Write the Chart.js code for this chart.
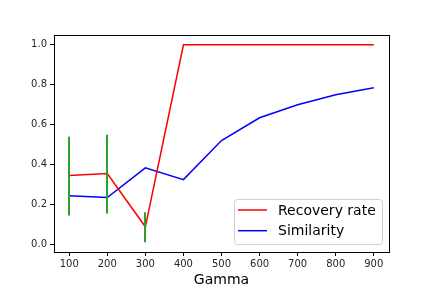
<!DOCTYPE html>
<html>
<head>
<meta charset="utf-8">
<script src="https://cdn.jsdelivr.net/npm/chart.js@4"></script>
<style>
  html, body { margin: 0; padding: 0; background: #fff; }
  #wrap { width: 432px; height: 288px; }
</style>
</head>
<body>
<div id="wrap"><canvas id="chart" width="432" height="288"></canvas></div>
<script>
const gammas = [100, 200, 300, 400, 500, 600, 700, 800, 900];
const recoveryRate = [0.346, 0.356, 0.09, 1.0, 1.0, 1.0, 1.0, 1.0, 1.0];
const similarity = [0.245, 0.236, 0.385, 0.326, 0.521, 0.635, 0.70, 0.75, 0.785];
// error bars only on the first three gammas
const errGammas = [100, 200, 300];
const errLow = [0.146, 0.156, 0.013];
const errHigh = [0.54, 0.55, 0.163];
const xTicks = [100, 200, 300, 400, 500, 600, 700, 800, 900];
const yTicks = [0.0, 0.2, 0.4, 0.6, 0.8, 1.0];
const legendLabels = ['Recovery rate', 'Similarity'];

const FONT = 'DejaVu Sans';
const TXT = '#262626';

function pts(xs, ys) {
  return xs.map((x, i) => ({ x: x, y: ys[i] }));
}

// error bars, axes frame and legend box like matplotlib
const extras = {
  id: 'extras',
  afterDatasetsDraw(chart) {
    const ctx = chart.ctx;
    const x = chart.scales.x, y = chart.scales.y;
    ctx.save();
    ctx.strokeStyle = '#2ca02c';
    ctx.lineWidth = 2;
    errGammas.forEach((g, i) => {
      const px = Math.round(x.getPixelForValue(g));
      ctx.beginPath();
      ctx.moveTo(px, y.getPixelForValue(errLow[i]));
      ctx.lineTo(px, y.getPixelForValue(errHigh[i]));
      ctx.stroke();
    });
    ctx.restore();
  },
  afterDraw(chart) {
    const ctx = chart.ctx;
    const a = chart.chartArea;
    ctx.save();
    ctx.strokeStyle = '#000';
    ctx.lineWidth = 1;
    ctx.strokeRect(a.left + 0.5, a.top + 0.5, a.right - a.left, a.bottom - a.top);

    // legend, lower right inside the axes
    const bx = 234.5, by = 199.5, bw = 148, bh = 45;
    ctx.fillStyle = 'rgba(255,255,255,0.8)';
    ctx.strokeStyle = '#d0d0d0';
    ctx.beginPath();
    ctx.roundRect(bx, by, bw, bh, 3);
    ctx.fill();
    ctx.stroke();
    const colors = ['#ff0000', '#0000ff'];
    ctx.font = '14px ' + FONT;
    ctx.textBaseline = 'middle';
    ctx.textAlign = 'left';
    legendLabels.forEach((lab, i) => {
      const ly = 210 + i * 20.7;
      ctx.strokeStyle = colors[i];
      ctx.lineWidth = 1.5;
      ctx.beginPath();
      ctx.moveTo(238, ly);
      ctx.lineTo(267, ly);
      ctx.stroke();
      ctx.fillStyle = '#000';
      ctx.fillText(lab, 278, ly + 1);
    });
    ctx.restore();
  }
};

new Chart(document.getElementById('chart'), {
  type: 'line',
  data: {
    datasets: [
      {
        label: legendLabels[0],
        data: pts(gammas, recoveryRate),
        borderColor: '#ff0000',
        borderWidth: 1.5,
        pointRadius: 0,
        tension: 0
      },
      {
        label: legendLabels[1],
        data: pts(gammas, similarity),
        borderColor: '#0000ff',
        borderWidth: 1.5,
        pointRadius: 0,
        tension: 0
      }
    ]
  },
  options: {
    responsive: false,
    animation: false,
    devicePixelRatio: 1,
    layout: { padding: { left: 0, right: 43, top: 35, bottom: 0 } },
    plugins: {
      legend: { display: false },
      tooltip: { enabled: false }
    },
    scales: {
      x: {
        type: 'linear',
        min: 60,
        max: 940,
        afterBuildTicks(s) { s.ticks = xTicks.map(v => ({ value: v })); },
        afterFit(s) { s.height = 36; },
        grid: { drawOnChartArea: false, drawTicks: true, tickLength: 4, color: '#000' },
        border: { display: false },
        ticks: {
          color: TXT,
          font: { family: FONT, size: 10 },
          padding: 2,
          maxRotation: 0,
          autoSkip: false
        },
        title: {
          display: true,
          text: 'Gamma',
          color: '#000',
          font: { family: FONT, size: 14 },
          padding: { top: 0, bottom: -1 }
        }
      },
      y: {
        type: 'linear',
        min: -0.036,
        max: 1.049,
        afterBuildTicks(s) { s.ticks = yTicks.map(v => ({ value: v })); },
        afterFit(s) { s.width = 54; },
        grid: { drawOnChartArea: false, drawTicks: true, tickLength: 4, color: '#000' },
        border: { display: false },
        ticks: {
          color: TXT,
          font: { family: FONT, size: 10 },
          padding: 3,
          callback: v => v.toFixed(1)
        }
      }
    }
  },
  plugins: [extras]
});
</script>
</body>
</html>
